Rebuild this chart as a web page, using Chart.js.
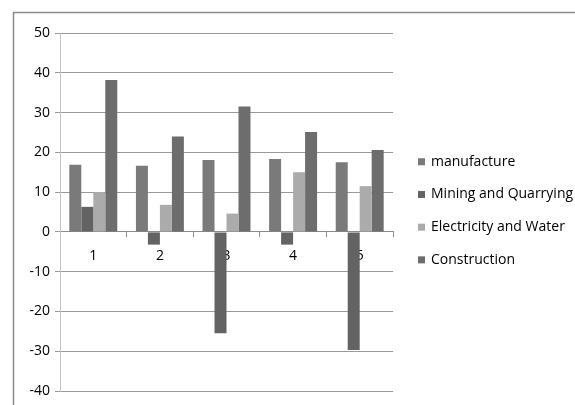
<!DOCTYPE html>
<html>
<head>
<meta charset="utf-8">
<script src="https://cdn.jsdelivr.net/npm/chart.js@4"></script>
<style>
  html, body { margin: 0; padding: 0; background: #fff; overflow: hidden; }
  #wrap { position: relative; width: 575px; height: 405px; }
</style>
</head>
<body>
<div id="wrap"><canvas id="c" width="575" height="405"></canvas></div>
<script>
// Periods on the category axis
const periods = ['1', '2', '3', '4', '5'];

// Growth rates (%) by sector
const manufacture = [16.9, 16.6, 18.1, 18.3, 17.5];
const miningQuarrying = [6.3, -3.2, -25.5, -3.2, -29.7];
const electricityWater = [10.0, 6.8, 4.6, 15.0, 11.5];
const construction = [38.2, 24.0, 31.5, 25.1, 20.6];

// Value axis range
const yMin = -40;
const yMax = 50;
const yStep = 10;

const FONT = '"Open Sans", sans-serif';
const FONT_SIZE = 14;

// Outer frame around the chart object
const framePlugin = {
  id: 'frame',
  beforeDraw(chart) {
    const ctx = chart.ctx;
    ctx.save();
    ctx.strokeStyle = '#8a8a8a';
    ctx.lineWidth = 1.5;
    ctx.beginPath();
    ctx.moveTo(13.5, 420);
    ctx.lineTo(13.5, 12.5);
    ctx.lineTo(590, 12.5);
    ctx.stroke();
    ctx.restore();
  }
};

// Legend column to the right of the plot, built from the dataset labels/colours
const sideLegend = {
  id: 'sideLegend',
  afterDraw(chart) {
    const ctx = chart.ctx;
    const area = chart.chartArea;
    const x = area.right + 25;
    const rowH = 32.7;
    const n = chart.data.datasets.length;
    const midY = (area.top + area.bottom) / 2 - 1.2;
    const y0 = midY - ((n - 1) * rowH) / 2;
    ctx.save();
    ctx.font = FONT_SIZE + 'px ' + FONT;
    ctx.textBaseline = 'middle';
    ctx.textAlign = 'left';
    chart.data.datasets.forEach((ds, i) => {
      const y = y0 + i * rowH;
      ctx.fillStyle = ds.backgroundColor;
      ctx.fillRect(x, y - 3.5, 7, 7);
      ctx.fillStyle = '#000';
      ctx.fillText(ds.label, x + 13, y);
    });
    ctx.restore();
  }
};

new Chart(document.getElementById('c'), {
  type: 'bar',
  data: {
    labels: periods,
    datasets: [
      { label: 'manufacture', data: manufacture, backgroundColor: '#7a7a7a' },
      { label: 'Mining and Quarrying', data: miningQuarrying, backgroundColor: '#636363' },
      { label: 'Electricity and Water', data: electricityWater, backgroundColor: '#ababab' },
      { label: 'Construction', data: construction, backgroundColor: '#6d6d6d' }
    ]
  },
  options: {
    responsive: false,
    animation: false,
    layout: { padding: { left: 0, right: 182, top: 33, bottom: 14 } },
    datasets: {
      bar: { categoryPercentage: 0.72, barPercentage: 1.0, borderWidth: 0 }
    },
    scales: {
      x: {
        position: { y: 0 },
        afterFit(s) { s.height = 0; },
        grid: {
          display: true,
          drawOnChartArea: false,
          drawTicks: true,
          tickLength: 5,
          offset: true,
          color: '#8c8c8c'
        },
        border: { display: true, color: '#8c8c8c', width: 1 },
        ticks: {
          padding: 11,
          color: '#000',
          font: { family: FONT, size: FONT_SIZE }
        }
      },
      y: {
        min: yMin,
        max: yMax,
        afterFit(s) { s.width = 60; },
        ticks: {
          stepSize: yStep,
          padding: 5,
          color: '#000',
          font: { family: FONT, size: FONT_SIZE }
        },
        grid: {
          color: '#9a9a9a',
          tickLength: 5,
          drawTicks: true
        },
        border: { display: true, color: '#c4c4c4', width: 1 }
      }
    },
    plugins: {
      legend: { display: false },
      tooltip: { enabled: false }
    }
  },
  plugins: [framePlugin, sideLegend]
});
</script>
</body>
</html>
